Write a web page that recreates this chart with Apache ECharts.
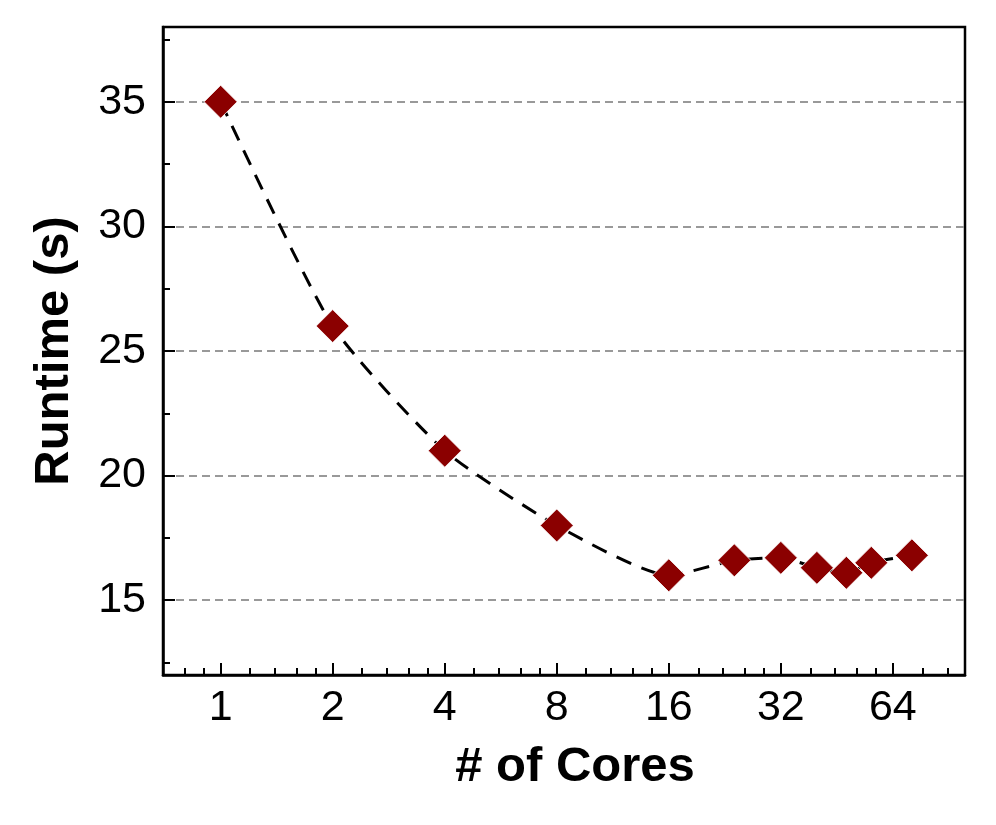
<!DOCTYPE html>
<html>
<head>
<meta charset="utf-8">
<script src="https://cdn.jsdelivr.net/npm/echarts@6/dist/echarts.min.js"></script>
<style>html,body{margin:0;padding:0;background:#fff}#chart{width:996px;height:825px}</style>
</head>
<body>
<div id="chart"></div>
<script>
var cores = [1, 2, 4, 8, 16, 24, 32, 40, 48, 56, 72];
var runtime = [35, 26, 21, 18, 16, 16.6, 16.7, 16.3, 16.1, 16.5, 16.8];
var xMajorTicks = [1, 2, 4, 8, 16, 32, 64];
var xMinorTicks = [0.8, 0.9, 1.2, 1.4, 1.6, 1.8, 2.4, 2.8, 3.2, 3.6, 4.8, 5.6, 6.4, 7.2,
  9.6, 11.2, 12.8, 14.4, 19.2, 22.4, 25.6, 28.8, 38.4, 44.8, 51.2, 57.6, 76.8, 89.6];
var yMajorTicks = [15, 20, 25, 30, 35];
var yMinorTicks = [12.5, 17.5, 22.5, 27.5, 32.5, 37.5];
var xRange = [0.7, 100];
var yRange = [12, 38];

var FONT = 'Liberation Sans, Arial, Helvetica, sans-serif';
var chart = echarts.init(document.getElementById('chart'));
var seriesData = cores.map(function (c, i) { return [c, runtime[i]]; });

chart.setOption({
  animation: false,
  grid: {
    left: 163, right: 31, top: 27, bottom: 150,
    show: true, borderColor: '#000', borderWidth: 2.5, backgroundColor: 'transparent'
  },
  xAxis: [{
    type: 'log', logBase: 2, min: xRange[0], max: xRange[1],
    name: '# of Cores', nameLocation: 'middle', nameGap: 68,
    nameTextStyle: { fontFamily: FONT, fontSize: 49, fontWeight: 'bold', color: '#000', padding: [0, 0, 0, 22] },
    axisLine: { show: true, lineStyle: { color: '#000', width: 2.5 } },
    axisTick: { show: true, inside: true, length: 12, lineStyle: { color: '#000', width: 2 }, customValues: xMajorTicks },
    axisLabel: { show: true, margin: 12, fontFamily: FONT, fontSize: 43, color: '#000', customValues: xMajorTicks,
      formatter: function (v) { return String(Math.round(v)); } },
    splitLine: { show: false }, minorTick: { show: false }
  }, {
    type: 'log', logBase: 2, min: xRange[0], max: xRange[1], position: 'bottom',
    axisLine: { show: false },
    axisTick: { show: true, inside: true, length: 7, lineStyle: { color: '#000', width: 2 }, customValues: xMinorTicks },
    axisLabel: { show: false }, splitLine: { show: false }
  }],
  yAxis: [{
    type: 'value', min: yRange[0], max: yRange[1],
    name: 'Runtime (s)', nameLocation: 'middle', nameGap: 84,
    nameTextStyle: { fontFamily: FONT, fontSize: 49, fontWeight: 'bold', color: '#000' },
    axisLine: { show: true, lineStyle: { color: '#000', width: 2.5 } },
    axisTick: { show: true, inside: true, length: 12, lineStyle: { color: '#000', width: 2 }, customValues: yMajorTicks },
    axisLabel: { show: true, margin: 17, fontFamily: FONT, fontSize: 43, color: '#000', customValues: yMajorTicks },
    splitLine: { show: true, lineStyle: { color: '#999', width: 1.8, type: [8, 5] } }
  }, {
    type: 'value', min: yRange[0], max: yRange[1], position: 'left',
    axisLine: { show: false },
    axisTick: { show: true, inside: true, length: 7, lineStyle: { color: '#000', width: 2 }, customValues: yMinorTicks },
    axisLabel: { show: false }, splitLine: { show: false }
  }],
  series: [{
    type: 'line', xAxisIndex: 0, yAxisIndex: 0,
    data: seriesData,
    smooth: 0.2,
    lineStyle: { color: '#000', width: 3, type: [16, 11] },
    symbol: 'diamond', symbolSize: 33,
    itemStyle: { color: '#8B0000', borderColor: '#fff', borderWidth: 0.8 },
    z: 5
  }]
});
</script>
</body>
</html>
